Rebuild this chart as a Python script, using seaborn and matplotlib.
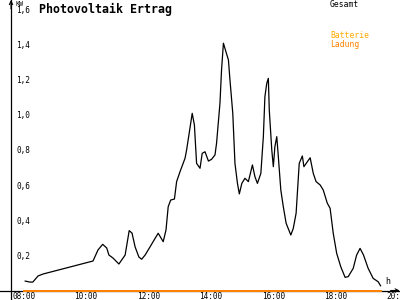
import matplotlib
matplotlib.use("Agg")
import matplotlib.pyplot as plt
import matplotlib.transforms as mtrans
import seaborn as sns
import pandas as pd

# ---- data (hours of day, kW) ----
gesamt_hours = [8.32, 8.48, 8.57, 8.74, 8.90, 10.50, 10.66, 10.81, 10.94, 11.01,
                11.14, 11.33, 11.53, 11.66, 11.75, 11.85, 11.97, 12.06, 12.17, 12.33,
                12.49, 12.59, 12.75, 12.84, 12.91, 12.99, 13.11, 13.18, 13.29, 13.45,
                13.50, 13.59, 13.68, 13.75, 13.82, 13.93, 14.00, 14.09, 14.20, 14.30,
                14.41, 14.46, 14.57, 14.62, 14.68, 14.76, 14.84, 14.89, 14.98, 15.05,
                15.13, 15.19, 15.27, 15.37, 15.48, 15.61, 15.69, 15.77, 15.88, 15.96,
                16.01, 16.07, 16.12, 16.15, 16.23, 16.28, 16.33, 16.39, 16.44, 16.52,
                16.60, 16.69, 16.84, 16.92, 17.01, 17.11, 17.21, 17.26, 17.46, 17.56,
                17.65, 17.78, 17.88, 18.01, 18.10, 18.20, 18.31, 18.44, 18.58, 18.68,
                18.84, 18.95, 19.06, 19.17, 19.32, 19.48, 19.64, 19.72]
gesamt_kw = [0.054, 0.048, 0.048, 0.083, 0.094, 0.168, 0.231, 0.263, 0.242, 0.202,
             0.185, 0.151, 0.202, 0.341, 0.327, 0.248, 0.191, 0.178, 0.202, 0.249,
             0.297, 0.326, 0.278, 0.345, 0.477, 0.515, 0.521, 0.620, 0.677, 0.753,
             0.800, 0.904, 1.009, 0.942, 0.724, 0.696, 0.781, 0.790, 0.737, 0.747,
             0.772, 0.838, 1.068, 1.256, 1.408, 1.360, 1.313, 1.199, 1.009, 0.724,
             0.610, 0.550, 0.610, 0.639, 0.620, 0.715, 0.648, 0.610, 0.667, 0.876,
             1.104, 1.180, 1.208, 1.028, 0.801, 0.705, 0.819, 0.876, 0.762, 0.572,
             0.477, 0.383, 0.316, 0.354, 0.440, 0.724, 0.766, 0.705, 0.756, 0.667,
             0.620, 0.601, 0.572, 0.497, 0.468, 0.326, 0.212, 0.136, 0.075, 0.079,
             0.126, 0.202, 0.240, 0.202, 0.126, 0.069, 0.050, 0.026]
batterie_hours = [8.29, 19.72]
batterie_kw = [0.0, 0.0]
ladung_hours = [8.29, 19.72]
ladung_kw = [0.0, 0.0]

x_ticks = [8, 10, 12, 14, 16, 18, 20]
x_labels = ["08:00", "10:00", "12:00", "14:00", "16:00", "18:00", "20:00"]
y_ticks = [0.2, 0.4, 0.6, 0.8, 1.0, 1.2, 1.4, 1.6]
y_labels = ["0,2", "0,4", "0,6", "0,8", "1,0", "1,2", "1,4", "1,6"]

title = "Photovoltaik Ertrag"
legend_names = ["Gesamt", "Batterie", "Ladung"]
colors = {"Gesamt": "#000000", "Batterie": "#FFAA00", "Ladung": "#FF8000"}

sns.set_style("white")
plt.rcParams["font.family"] = ["DejaVu Sans Mono", "DejaVu Sans"]

fig = plt.figure(figsize=(4, 3), dpi=100)
ax = fig.add_axes([0, 0, 1, 1])
ax.set_facecolor("white")

XMIN, XMAX = 7.519, 20.340
YMIN, YMAX = -0.054, 1.654
YAXIS_X = 7.872

df_g = pd.DataFrame({"h": gesamt_hours, "kw": gesamt_kw})
df_b = pd.DataFrame({"h": batterie_hours, "kw": batterie_kw})
df_l = pd.DataFrame({"h": ladung_hours, "kw": ladung_kw})

sns.lineplot(data=df_g, x="h", y="kw", ax=ax, color=colors["Gesamt"], lw=0.9,
             sort=False, estimator=None, zorder=3)
sns.lineplot(data=df_b, x="h", y="kw", ax=ax, color=colors["Batterie"], lw=1.4,
             sort=False, estimator=None, zorder=4)
sns.lineplot(data=df_l, x="h", y="kw", ax=ax, color=colors["Ladung"], lw=1.4,
             sort=False, estimator=None, zorder=5)

ax.set_xlim(XMIN, XMAX)
ax.set_ylim(YMIN, YMAX)
ax.set_xlabel("")
ax.set_ylabel("")

for s in ["top", "right"]:
    ax.spines[s].set_visible(False)
ax.spines["left"].set_position(("data", YAXIS_X))
ax.spines["bottom"].set_position(("data", 0))
for s in ["left", "bottom"]:
    ax.spines[s].set_visible(True)
    ax.spines[s].set_color("black")
    ax.spines[s].set_linewidth(0.9)

ax.set_xticks(x_ticks)
ax.set_xticklabels(x_labels)
ax.set_yticks(y_ticks)
ax.set_yticklabels(y_labels)
ax.tick_params(axis="both", direction="inout", length=5, width=0.8, color="black",
               pad=0, labelsize=5.6, labelcolor="black")

dpi_t = fig.dpi_scale_trans
for lab in ax.get_xticklabels():
    lab.set_horizontalalignment("left")
    lab.set_transform(lab.get_transform() + mtrans.ScaledTranslation(-3 / 100, 2 / 100, dpi_t))
for lab in ax.get_yticklabels():
    lab.set_horizontalalignment("left")
    lab.set_transform(lab.get_transform() + mtrans.ScaledTranslation(8.5 / 100, 0, dpi_t))

# axis arrows
ax.annotate("", xy=(YAXIS_X, YMAX), xytext=(YAXIS_X, YMAX - 0.05),
            arrowprops=dict(arrowstyle="->", lw=0.8, color="black",
                            shrinkA=0, shrinkB=0, mutation_scale=6), annotation_clip=False)
ax.annotate("", xy=(XMAX - 0.01, 0), xytext=(XMAX - 0.3, 0),
            arrowprops=dict(arrowstyle="->", lw=0.8, color="black",
                            shrinkA=0, shrinkB=0, mutation_scale=6), annotation_clip=False)

# title, units and legend text
fig.text(39 / 400, 1 - 3 / 300, title, ha="left", va="top", fontsize=8.4,
         fontweight="bold", color="black")
fig.text(15 / 400, 1 - 1 / 300, "KW", ha="left", va="top", fontsize=4.8, color="black")
fig.text(385 / 400, 1 - 281 / 300, "h", ha="left", va="center", fontsize=6, color="black")
fig.text(330 / 400, 1 - 4.5 / 300, legend_names[0], ha="left", va="center",
         fontsize=5.8, color=colors["Gesamt"])
fig.text(330 / 400, 1 - 36 / 300, legend_names[1], ha="left", va="center",
         fontsize=5.8, color=colors["Batterie"])
fig.text(330 / 400, 1 - 44 / 300, legend_names[2], ha="left", va="center",
         fontsize=5.8, color=colors["Ladung"])

fig.savefig("out.png", dpi=100, facecolor="white")
